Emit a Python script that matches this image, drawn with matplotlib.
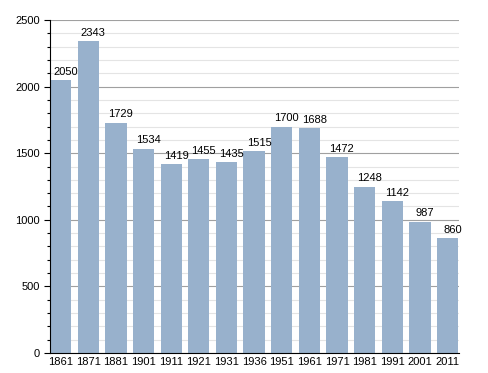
import matplotlib
matplotlib.use('Agg')
import matplotlib.pyplot as plt
from matplotlib.ticker import MultipleLocator

plt.rcParams['font.family'] = ['Liberation Sans', 'DejaVu Sans']

years = ["1861", "1871", "1881", "1901", "1911", "1921", "1931", "1936",
         "1951", "1961", "1971", "1981", "1991", "2001", "2011"]
population = [2050, 2343, 1729, 1534, 1419, 1455, 1435, 1515,
              1700, 1688, 1472, 1248, 1142, 987, 860]

bar_color = "#98b1cc"
width = 0.77

fig = plt.figure(figsize=(4.88, 3.73), dpi=100)
ax = fig.add_axes([0.1025, 0.0536, 0.838, 0.8928])

xs = list(range(len(years)))
ax.bar(xs, population, width=width, color=bar_color, zorder=3)
for x, v in zip(xs, population):
    ax.text(x + 0.18, v + 25, str(v), ha="center", va="bottom",
            fontsize=8, color="black", zorder=4)

ax.set_xlim(-width / 2, len(years) - 1 + width / 2 + 0.03)
ax.set_ylim(0, 2500)
ax.set_xticks(xs)
ax.set_xticklabels(years, fontsize=8)
ax.yaxis.set_major_locator(MultipleLocator(500))
ax.yaxis.set_minor_locator(MultipleLocator(100))
ax.tick_params(axis="y", which="major", labelsize=8, length=4, width=0.8)
ax.tick_params(axis="y", which="minor", length=2.5, width=0.8)
ax.tick_params(axis="x", length=0, pad=3)

ax.grid(axis="y", which="major", color="#a0a0a0", linewidth=0.8, zorder=0)
ax.grid(axis="y", which="minor", color="#e4e4e4", linewidth=0.8, zorder=0)

for side in ("top", "right"):
    ax.spines[side].set_visible(False)
ax.spines["left"].set_color("black")
ax.spines["bottom"].set_color("black")
ax.spines["left"].set_zorder(5)
ax.spines["bottom"].set_zorder(5)

plt.savefig("out.png", dpi=100)
